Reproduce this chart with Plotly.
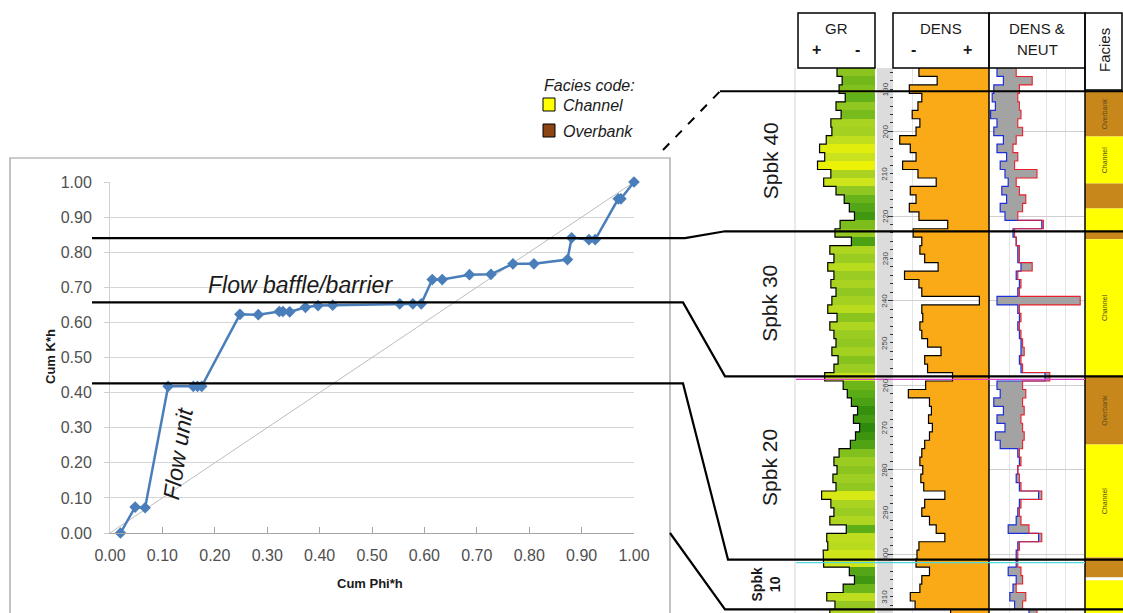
import plotly.graph_objects as go

W, H = 1123, 613

# ---------------- Stratigraphic modified Lorenz plot data ----------------
cum_phih = [0.020, 0.048, 0.067, 0.111, 0.159, 0.167, 0.175, 0.248, 0.283, 0.323,
            0.330, 0.343, 0.373, 0.397, 0.425, 0.553, 0.578, 0.594, 0.615, 0.634,
            0.686, 0.727, 0.769, 0.809, 0.873, 0.881, 0.914, 0.926, 0.970, 0.975,
            1.000]
cum_kh = [0.000, 0.074, 0.072, 0.418, 0.418, 0.418, 0.418, 0.623, 0.622, 0.631,
          0.631, 0.630, 0.643, 0.648, 0.649, 0.653, 0.653, 0.653, 0.722, 0.722,
          0.736, 0.737, 0.767, 0.767, 0.779, 0.841, 0.836, 0.836, 0.952, 0.952,
          1.000]
diag_line = [0.0, 1.0]
flow_unit_breaks = [0.840, 0.657, 0.426]          # Cum K*h of the correlated boundaries

# ---------------- Well log data ----------------
depth = [185, 187, 189, 191, 193, 195, 197, 199, 201, 203, 205, 207, 209, 211, 213, 215,
         217, 219, 221, 223, 225, 227, 229, 231, 233, 235, 237, 239, 241, 243, 245, 247,
         249, 251, 253, 255, 257, 259, 261, 263, 265, 267, 269, 271, 273, 275, 277, 279,
         281, 283, 285, 287, 289, 291, 293, 295, 297, 299, 301, 303, 305, 307, 309, 311, 313]
gr = [74, 64, 70, 58, 76, 66, 86, 84, 95, 108, 98, 112, 86, 100, 76, 60, 50, 40, 68, 78,
      46, 88, 80, 92, 80, 86, 76, 84, 92, 74, 88, 80, 76, 84, 72, 80, 98, 62, 54, 46,
      34, 42, 30, 38, 48, 70, 80, 74, 82, 76, 104, 86, 80, 88, 56, 94, 92, 101, 100, 50,
      40, 62, 94, 78, 88]
dens = [2.27, 2.46, 2.17, 2.30, 2.26, 2.20, 2.28, 2.24, 2.07, 2.18, 2.24, 2.10, 2.26, 2.45,
        2.18, 2.24, 2.17, 2.27, 2.57, 2.21, 2.30, 2.28, 2.33, 2.47, 2.12, 2.27, 2.30, 2.90,
        2.30, 2.31, 2.28, 2.30, 2.36, 2.50, 2.33, 2.36, 2.62, 2.34, 2.16, 2.38, 2.40, 2.37,
        2.41, 2.38, 2.33, 2.30, 2.28, 2.31, 2.29, 2.32, 2.54, 2.33, 2.30, 2.38, 2.45, 2.54,
        2.27, 2.25, 2.24, 2.38, 2.30, 2.28, 2.18, 2.23, 2.60]
nphi = [0.40, 0.36, 0.42, 0.43, 0.41, 0.44, 0.40, 0.42, 0.36, 0.40, 0.34, 0.38, 0.35, 0.33,
        0.37, 0.34, 0.38, 0.35, 0.12, 0.30, 0.28, 0.27, 0.27, 0.25, 0.28, 0.26, 0.27, 0.40,
        0.27, 0.26, 0.27, 0.26, 0.25, 0.25, 0.26, 0.25, 0.10, 0.40, 0.38, 0.42, 0.36, 0.40,
        0.35, 0.41, 0.38, 0.27, 0.26, 0.27, 0.28, 0.26, 0.14, 0.26, 0.27, 0.28, 0.33, 0.14,
        0.27, 0.28, 0.28, 0.33, 0.28, 0.30, 0.32, 0.29, 0.20]
dphi = [0.28, 0.18, 0.26, 0.27, 0.26, 0.25, 0.27, 0.24, 0.28, 0.30, 0.27, 0.29, 0.15, 0.28,
        0.26, 0.22, 0.24, 0.27, 0.11, 0.29, 0.28, 0.26, 0.26, 0.18, 0.27, 0.25, 0.26, -0.12,
        0.26, 0.25, 0.26, 0.25, 0.24, 0.23, 0.25, 0.24, 0.07, 0.24, 0.22, 0.24, 0.23, 0.25,
        0.24, 0.23, 0.24, 0.26, 0.25, 0.27, 0.26, 0.25, 0.12, 0.25, 0.26, 0.25, 0.20, 0.12,
        0.26, 0.27, 0.27, 0.25, 0.24, 0.28, 0.22, 0.24, 0.15]
sample_step = 2

facies_top = [190.5, 201.2, 212.3, 218.2, 223.6, 225.5, 257.9, 274.0, 300.7, 306.1]
facies_base = [201.2, 212.3, 218.2, 223.6, 225.5, 257.9, 274.0, 300.7, 305.4, 314.0]
facies_type = ["Overbank", "Channel", "Overbank", "Channel", "Overbank", "Channel",
               "Overbank", "Channel", "Overbank", "Channel"]
facies_colors = {"Channel": "#FFFF00", "Overbank": "#C8871A"}

sequence_tops = [190.5, 223.6, 257.9, 301.2, 313.0]
sequence_names = ["Spbk 40", "Spbk 30", "Spbk 20", "Spbk<br>10"]
depth_labels = [190, 200, 210, 220, 230, 240, 250, 260, 270, 280, 290, 300, 310]

# ---------------- geometry (pixels) ----------------
PX0, PX1 = 110, 634      # cum phi*h 0 and 1
PY0, PY1 = 533, 182      # cum k*h 0 and 1
TOP_PX, BOT_PX = 68, 613
D_TOP, PX_PER_FT = 185.0, 4.23
D_BOT = D_TOP + (BOT_PX - TOP_PX) / PX_PER_FT


def px(x):
    return x / W


def py(y):
    return 1 - y / H


def kh_px(v):
    return PY0 - v * (PY0 - PY1)


def d_px(d):
    return TOP_PX + (d - D_TOP) * PX_PER_FT


def steps(vals):
    xs, ys = [], []
    for d, v in zip(depth, vals):
        xs += [v, v]
        ys += [d, d + sample_step]
    return xs, ys


fig = go.Figure()

# Lorenz plot
fig.add_trace(go.Scatter(x=diag_line, y=diag_line, mode="lines",
                         line=dict(color="#BDBDBD", width=1), hoverinfo="skip", showlegend=False))
fig.add_trace(go.Scatter(x=cum_phih, y=cum_kh, mode="lines+markers",
                         line=dict(color="#4A7EBB", width=2.5),
                         marker=dict(symbol="diamond", size=9, color="#4A7EBB"),
                         cliponaxis=False, showlegend=False))

# GR track: coloured band + white mask left of the curve + curve
gr_edges = depth + [depth[-1] + sample_step]
fig.add_trace(go.Heatmap(z=[[g] for g in gr], x=[0, 150], y=gr_edges,
                         zmin=30, zmax=115, showscale=False, hoverinfo="skip",
                         colorscale=[[0.0, "#2E8A0C"], [0.3, "#5DAE17"], [0.6, "#9CCD22"],
                                     [0.82, "#CDE41C"], [1.0, "#F2F500"]],
                         xaxis="x2", yaxis="y2"))
gx, gy = steps(gr)
fig.add_trace(go.Scatter(x=[150] + gx + [150], y=[gy[0]] + gy + [gy[-1]], mode="lines",
                         fill="toself", fillcolor="white", line=dict(width=0),
                         hoverinfo="skip", showlegend=False, xaxis="x2", yaxis="y2"))
fig.add_trace(go.Scatter(x=gx, y=gy, mode="lines", line=dict(color="black", width=1.2),
                         showlegend=False, xaxis="x2", yaxis="y2"))

# DENS track
dx, dy = steps(dens)
fig.add_trace(go.Scatter(x=[3.0] + dx + [3.0], y=[dy[0]] + dy + [dy[-1]], mode="lines",
                         fill="toself", fillcolor="#FBAA17", line=dict(width=0),
                         hoverinfo="skip", showlegend=False, xaxis="x3", yaxis="y2"))
fig.add_trace(go.Scatter(x=dx, y=dy, mode="lines", line=dict(color="black", width=1.2),
                         showlegend=False, xaxis="x3", yaxis="y2"))

# DENS & NEUT track: grey shading only where neutron reads left of density
rx, ry = steps(dphi)
bx, by = steps(nphi)
sx, sy = steps([min(n, d) for n, d in zip(nphi, dphi)])
fig.add_trace(go.Scatter(x=sx, y=sy, mode="lines", line=dict(width=0),
                         hoverinfo="skip", showlegend=False, xaxis="x4", yaxis="y2"))
fig.add_trace(go.Scatter(x=bx, y=by, mode="lines", line=dict(color="#1C2FD8", width=1.2),
                         fill="tonextx", fillcolor="#A3A3A3",
                         showlegend=False, xaxis="x4", yaxis="y2"))
fig.add_trace(go.Scatter(x=rx, y=ry, mode="lines", line=dict(color="#E8202A", width=1.1),
                         showlegend=False, xaxis="x4", yaxis="y2"))

# Facies track
fig.add_trace(go.Bar(x=[0.5] * len(facies_top),
                     y=[b - t for t, b in zip(facies_top, facies_base)],
                     base=facies_top, width=1,
                     marker=dict(color=[facies_colors[f] for f in facies_type], line=dict(width=0)),
                     text=[f if (b - t) > 9 else "" for f, t, b in zip(facies_type, facies_top, facies_base)],
                     textposition="inside", insidetextanchor="middle", textangle=-90,
                     textfont=dict(size=7, color="#5A4A20", family="Liberation Sans"),
                     hoverinfo="skip", showlegend=False, xaxis="x5", yaxis="y2"))

shapes = []
ann = []

# outer chart frame
shapes.append(dict(type="rect", xref="paper", yref="paper", x0=px(10), x1=px(670),
                   y0=py(625), y1=py(158), line=dict(color="#9A9A9A", width=1.2), layer="below"))
# depth strip
shapes.append(dict(type="rect", xref="paper", yref="paper", x0=px(877), x1=px(893),
                   y0=py(BOT_PX), y1=py(TOP_PX), fillcolor="#DCDCDC", line=dict(width=0), layer="below"))
# light left edge of log
shapes.append(dict(type="line", xref="paper", yref="paper", x0=px(795), x1=px(795),
                   y0=py(BOT_PX), y1=py(TOP_PX), line=dict(color="#D5D5D5", width=1)))
# track borders
for xb in (989, 1085):
    shapes.append(dict(type="line", xref="paper", yref="paper", x0=px(xb), x1=px(xb),
                       y0=py(BOT_PX), y1=py(TOP_PX), line=dict(color="black", width=1.5)))
# header boxes
for (x0, x1, y1) in [(798, 875, 68), (893, 989, 68), (989, 1085, 68), (1085, 1122, 90)]:
    shapes.append(dict(type="rect", xref="paper", yref="paper", x0=px(x0), x1=px(x1),
                       y0=py(y1), y1=py(13), line=dict(color="black", width=1.5)))

# coloured marker lines
shapes.append(dict(type="line", xref="paper", yref="paper", x0=px(796), x1=px(1085),
                   y0=py(d_px(sequence_tops[2]) + 3), y1=py(d_px(sequence_tops[2]) + 3),
                   line=dict(color="#E040D0", width=1.2)))
shapes.append(dict(type="line", xref="paper", yref="paper", x0=px(796), x1=px(1085),
                   y0=py(d_px(sequence_tops[3]) + 3), y1=py(d_px(sequence_tops[3]) + 3),
                   line=dict(color="#50D8D8", width=1.2)))

# correlation lines from flow-unit boundaries to sequence tops
LEFT = 92
bends = [(685, 725), (683, 725), (683, 728)]
for kh, (bx0, bx1), top in zip(flow_unit_breaks, bends, sequence_tops[1:4]):
    yk = kh_px(kh)
    yd = d_px(top)
    path = (f"M {px(LEFT)},{py(yk)} L {px(bx0)},{py(yk)} L {px(bx1)},{py(yd)} "
            f"L {px(1123)},{py(yd)}")
    shapes.append(dict(type="path", xref="paper", yref="paper", path=path,
                       line=dict(color="black", width=2.2)))
# base of chart to base of log
yd = d_px(sequence_tops[4])
shapes.append(dict(type="path", xref="paper", yref="paper",
                   path=f"M {px(670)},{py(kh_px(0))} L {px(725)},{py(yd)} L {px(1123)},{py(yd)}",
                   line=dict(color="black", width=2.2)))
# top: dashed tie + line
yd = d_px(sequence_tops[0])
shapes.append(dict(type="line", xref="paper", yref="paper", x0=px(663), y0=py(150),
                   x1=px(720), y1=py(yd), line=dict(color="black", width=2, dash="dash")))
shapes.append(dict(type="line", xref="paper", yref="paper", x0=px(720), y0=py(yd),
                   x1=px(1123), y1=py(yd), line=dict(color="black", width=2.2)))

# legend squares
shapes.append(dict(type="rect", xref="paper", yref="paper", x0=px(543), x1=px(555),
                   y0=py(111), y1=py(98), fillcolor="#FFFF00", line=dict(color="black", width=1)))
shapes.append(dict(type="rect", xref="paper", yref="paper", x0=px(543), x1=px(555),
                   y0=py(137), y1=py(124), fillcolor="#8B4513", line=dict(color="black", width=1)))

SANS = "Liberation Sans"


def text(x, y, s, size, **kw):
    d = dict(xref="paper", yref="paper", x=px(x), y=py(y), text=s, showarrow=False,
             xanchor="center", yanchor="middle",
             font=dict(family=SANS, size=size, color=kw.pop("color", "#1A1A1A")))
    d.update(kw)
    ann.append(d)


# axis titles
text(50, 357, "<b>Cum K*h</b>", 13, textangle=-90)
text(370, 583, "<b>Cum Phi*h</b>", 13)
# legend
text(542, 85, "<i>Facies code:</i>", 16, xanchor="left")
text(561, 105, "<i>Channel</i>", 16, xanchor="left")
text(561, 131, "<i>Overbank</i>", 16, xanchor="left")
# in-chart labels
ann.append(dict(xref="x", yref="y", x=0.3626, y=0.7066, text="<i>Flow baffle/barrier</i>",
                xanchor="center", yanchor="middle",
                showarrow=False, font=dict(family=SANS, size=23, color="#1A1A1A")))
ann.append(dict(xref="x", yref="y", x=0.130, y=0.228, text="<i>Flow unit</i>", textangle=-81,
                xanchor="center", yanchor="middle",
                showarrow=False, font=dict(family=SANS, size=23, color="#1A1A1A")))
# headers
text(836, 29, "GR", 15)
text(816, 50, "<b>+</b>", 16)
text(857, 50, "<b>-</b>", 16)
text(941, 29, "DENS", 15)
text(913, 50, "<b>-</b>", 16)
text(967, 50, "<b>+</b>", 16)
text(1037, 29, "DENS &amp;", 15)
text(1037, 50, "NEUT", 15)
text(1105, 50, "Facies", 15, textangle=-90)
# sequence names
for i, name in enumerate(sequence_names):
    ymid = (d_px(sequence_tops[i]) + d_px(sequence_tops[i + 1])) / 2
    if i < 3:
        text(770, ymid, name, 21, textangle=-90)
    else:
        text(766, ymid, "<b>" + name + "</b>", 14, textangle=-90)
# depth labels
for d in depth_labels:
    ann.append(dict(xref="paper", yref="y2", x=px(885), y=d, text=str(d), textangle=-90,
                    xanchor="center", yanchor="middle",
                    showarrow=False, font=dict(family=SANS, size=8, color="#444")))

hidden = dict(showticklabels=False, ticks="", zeroline=False, showline=False, anchor="y2",
              automargin=False)
TICKFONT = dict(family="Liberation Sans", size=16, color="#505050")

fig.update_layout(
    width=W, height=H, margin=dict(l=0, r=0, t=0, b=0, autoexpand=False),
    paper_bgcolor="white", plot_bgcolor="rgba(0,0,0,0)",
    showlegend=False, barmode="overlay",
    xaxis=dict(domain=[px(PX0), px(PX1)], range=[0, 1], tick0=0, dtick=0.1, tickformat=".2f",
               showgrid=False, zeroline=False, showline=True, linecolor="#A6A6A6",
               ticks="inside", ticklen=6, tickcolor="#A6A6A6", anchor="y", automargin=False,
               ticklabelstandoff=8, tickfont=TICKFONT),
    yaxis=dict(domain=[py(PY0), py(PY1)], range=[0, 1], tick0=0, dtick=0.1, tickformat=".2f",
               showgrid=True, gridcolor="#D6D6D6", zeroline=False, showline=True,
               linecolor="#D0D0D0", ticks="outside", ticklen=5, tickcolor="#D0D0D0",
               anchor="x", automargin=False, ticklabelstandoff=9, tickfont=TICKFONT),
    xaxis2=dict(domain=[px(798), px(875)], range=[150, 0], showgrid=True, tickvals=[120, 60],
                gridcolor="#E4E4E4", **hidden),
    xaxis3=dict(domain=[px(893), px(989)], range=[2.0, 3.0], showgrid=True, tickvals=[2.2],
                gridcolor="#E4E4E4", **hidden),
    xaxis4=dict(domain=[px(989), px(1085)], range=[0.45, -0.15], showgrid=True,
                tickvals=[0.32, 0.09, -0.03], gridcolor="#E4E4E4", **hidden),
    xaxis5=dict(domain=[px(1085), px(1123)], range=[0, 1], showgrid=False, **hidden),
    yaxis2=dict(domain=[0, py(TOP_PX)], range=[D_BOT, D_TOP], anchor="free", position=px(893),
                side="right", showticklabels=False, ticks="inside", ticklen=5, tickcolor="#333",
                tick0=0, dtick=20, showgrid=True, gridcolor="#CFCFCF", zeroline=False,
                showline=False, automargin=False,
                minor=dict(dtick=2, ticks="inside", ticklen=3, tickcolor="#333", showgrid=False)),
    shapes=shapes, annotations=ann,
)

fig.write_html("out.html", config={"displayModeBar": False},
               post_script="document.body.style.margin='0px';document.body.style.overflow='hidden';")
